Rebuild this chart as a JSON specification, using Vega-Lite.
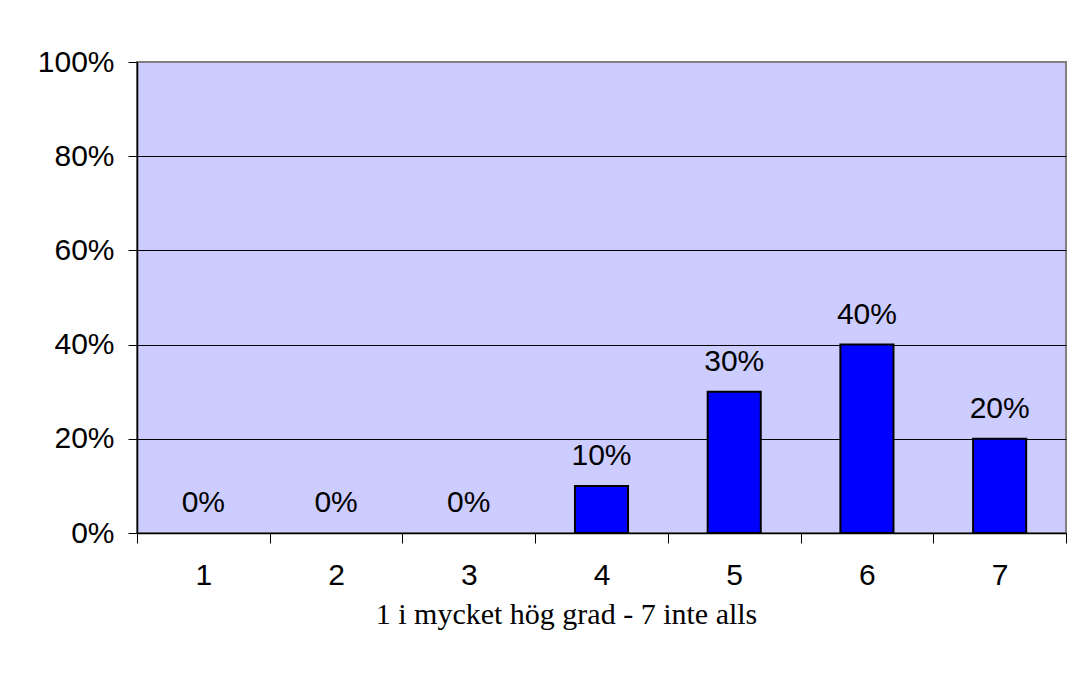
{
  "$schema": "https://vega.github.io/schema/vega-lite/v6.json",
  "width": 929,
  "height": 471,
  "autosize": {"type": "none"},
  "padding": {"left": 137, "top": 62, "right": 10, "bottom": 146},
  "background": "white",
  "config": {
    "view": {"fill": "#CCCCFF", "stroke": "#808080", "strokeWidth": 2},
    "font": "Liberation Sans"
  },
  "data": {
    "values": [
      {"k": "1", "v": 0.0},
      {"k": "2", "v": 0.0},
      {"k": "3", "v": 0.0},
      {"k": "4", "v": 0.1},
      {"k": "5", "v": 0.3},
      {"k": "6", "v": 0.4},
      {"k": "7", "v": 0.2}
    ]
  },
  "encoding": {
    "x": {
      "field": "k",
      "type": "ordinal",
      "sort": null,
      "scale": {"paddingInner": 0, "paddingOuter": 0},
      "axis": {
        "title": "1 i mycket hög grad - 7 inte alls",
        "titleFont": "Liberation Serif",
        "titleFontSize": 30,
        "titleFontWeight": "normal",
        "titleColor": "black",
        "titlePadding": 9,
        "titleX": 429,
        "titleAlign": "center",
        "labelAngle": 0,
        "labelFontSize": 30,
        "labelColor": "black",
        "labelPadding": 17,
        "tickBand": "extent",
        "tickSize": 10,
        "tickColor": "black",
        "domainColor": "black",
        "domainWidth": 1.5,
        "grid": false
      }
    },
    "y": {
      "field": "v",
      "type": "quantitative",
      "scale": {"domain": [0, 1]},
      "axis": {
        "title": null,
        "values": [0, 0.2, 0.4, 0.6, 0.8, 1],
        "format": ".0%",
        "labelFontSize": 30,
        "labelColor": "black",
        "labelPadding": 14,
        "tickSize": 9,
        "tickColor": "black",
        "domainColor": "black",
        "domainWidth": 1.5,
        "grid": true,
        "gridColor": {"condition": {"test": "datum.value == 1", "value": "#808080"}, "value": "black"},
        "gridOpacity": 1,
        "gridWidth": 1
      }
    }
  },
  "layer": [
    {
      "mark": {"type": "bar", "fill": "#0000FF", "stroke": "black", "strokeWidth": 2, "width": {"band": 0.4}},
      "encoding": {
        "strokeOpacity": {"condition": {"test": "datum.v == 0", "value": 0}, "value": 1}
      }
    },
    {
      "mark": {"type": "text", "fontSize": 30, "color": "black", "baseline": "alphabetic", "dy": -21},
      "encoding": {
        "text": {"field": "v", "type": "quantitative", "format": ".0%"}
      }
    }
  ]
}
